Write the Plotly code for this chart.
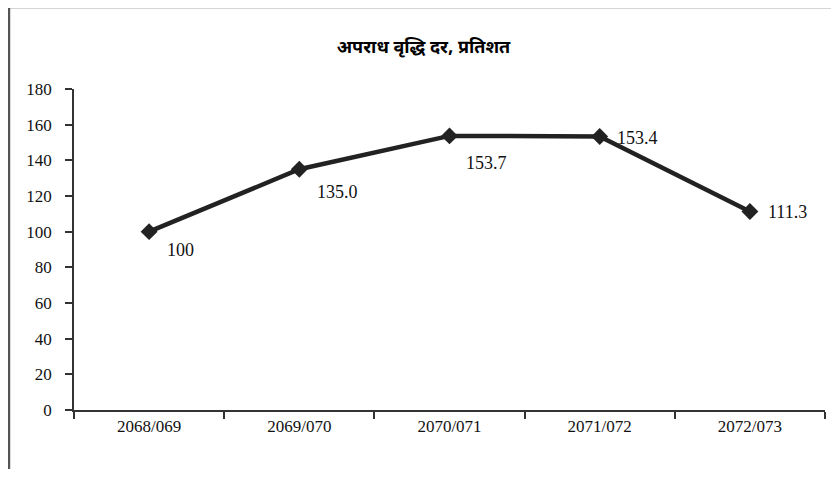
import plotly.graph_objects as go

categories = ["2068/069", "2069/070", "2070/071", "2071/072", "2072/073"]
values = [100, 135.0, 153.7, 153.4, 111.3]
value_labels = ["100", "135.0", "153.7", "153.4", "111.3"]
label_shift_x = [31, 38, 37, 38, 38]
label_shift_y = [-18, -23, -27, -2, 0]
y_ticks = [0, 20, 40, 60, 80, 100, 120, 140, 160, 180]
title_text = "अपराध वृद्धि दर, प्रतिशत"

serif = "Liberation Serif, Times New Roman, serif"

fig = go.Figure()
fig.add_trace(go.Scatter(
    x=categories, y=values, mode="lines+markers",
    line=dict(color="#222222", width=4.5),
    marker=dict(symbol="diamond", size=13, color="#222222"),
    hoverinfo="skip", showlegend=False,
))

for c, v, t, sx, sy in zip(categories, values, value_labels, label_shift_x, label_shift_y):
    fig.add_annotation(x=c, y=v, text=t, showarrow=False, xshift=sx, yshift=sy,
                       font=dict(family=serif, size=18, color="#111111"))

fig.add_shape(type="rect", xref="paper", yref="paper",
              x0=-0.0866, x1=1.2, y0=-0.5, y1=1.2555,
              line=dict(color="#555555", width=2.5), layer="below")

fig.update_layout(
    width=831, height=461,
    margin=dict(l=66, r=14, t=81, b=59),
    paper_bgcolor="white", plot_bgcolor="white",
    title=dict(text="<b>" + title_text + "</b>", x=0.50, xanchor="center",
               y=0.915, yanchor="middle",
               font=dict(family="Noto Sans Devanagari, Lohit Devanagari, FreeSans, sans-serif", size=18, color="#000000")),
    xaxis=dict(range=[-0.5, 4.5], type="category", tickson="boundaries",
               ticks="outside", ticklen=7, tickcolor="#333333", tickwidth=1.5,
               showline=True, linecolor="#333333", linewidth=1.5,
               showgrid=False, zeroline=False,
               tickfont=dict(family=serif, size=17, color="#111111")),
    yaxis=dict(range=[0, 180], tickvals=y_ticks,
               ticks="outside", ticklen=7, tickcolor="#333333", tickwidth=1.5,
               showline=True, linecolor="#333333", linewidth=1.5,
               showgrid=False, zeroline=False, ticklabelstandoff=10,
               tickfont=dict(family=serif, size=17, color="#111111")),
)

fig.write_html("out.html")
